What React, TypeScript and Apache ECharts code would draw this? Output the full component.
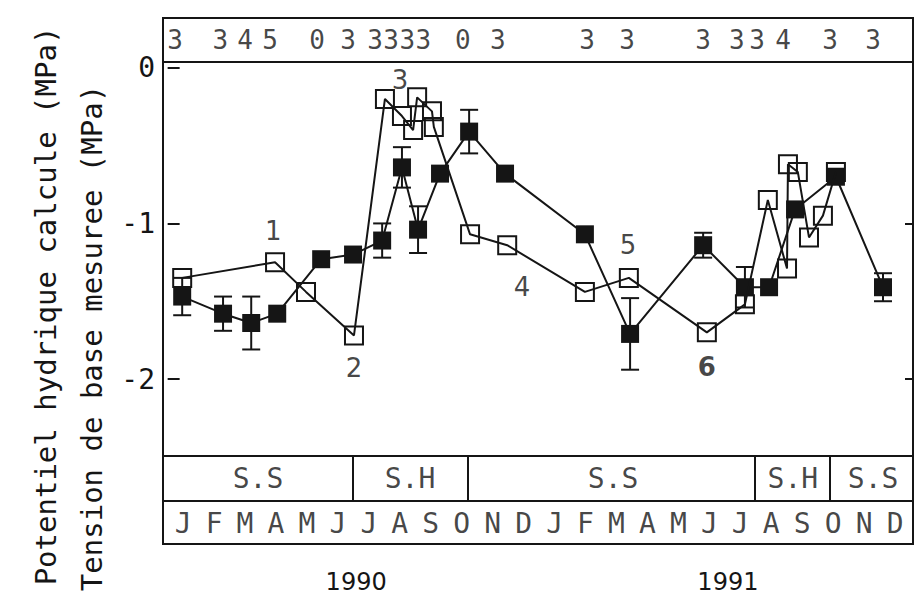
import React, { useEffect, useRef } from "react";
import * as echarts from "echarts";

// Month letters along the bottom band (Jan 1990 – Dec 1991)
const monthLetters = ["J", "F", "M", "A", "M", "J", "J", "A", "S", "O", "N", "D",
  "J", "F", "M", "A", "M", "J", "J", "A", "S", "O", "N", "D"];

// Measured base tension (filled squares): time in months from Jan 1990, MPa, error half-width
const measuredMonths = [0.47, 1.79, 2.70, 3.54, 4.96, 5.99, 6.93, 7.57, 8.09, 8.80,
  9.74, 10.90, 13.48, 14.94, 17.30, 18.65, 19.43, 20.27, 21.59, 23.11];
const measuredValues = [-1.47, -1.58, -1.64, -1.58, -1.23, -1.20, -1.11, -0.64, -1.04, -0.68,
  -0.41, -0.68, -1.07, -1.71, -1.14, -1.41, -1.41, -0.91, -0.70, -1.41];
const measuredErrors = [0.12, 0.11, 0.17, 0, 0, 0, 0.11, 0.13, 0.15, 0,
  0.14, 0, 0, 0.23, 0.08, 0.13, 0, 0, 0, 0.09];

// Computed water potential (open squares)
const computedMonths = [0.47, 3.47, 4.47, 6.02, 7.02, 7.57, 7.93, 8.06, 8.54, 8.60,
  9.77, 10.97, 13.48, 14.90, 17.42, 18.65, 19.39, 20.01, 20.04, 20.36, 20.72, 21.17, 21.59];
const computedValues = [-1.35, -1.25, -1.44, -1.72, -0.20, -0.31, -0.40, -0.19, -0.28, -0.38,
  -1.07, -1.14, -1.44, -1.35, -1.70, -1.52, -0.85, -1.29, -0.62, -0.67, -1.09, -0.95, -0.67];

// Number of samples per sampling date (top band)
const countMonths = [0.24, 1.70, 2.50, 3.31, 4.83, 5.83, 6.70, 7.22, 7.74, 8.26,
  9.54, 10.67, 13.55, 14.84, 17.30, 18.39, 19.04, 19.88, 21.40, 22.79];
const countLabels = ["3", "3", "4", "5", "0", "3", "3", "3", "3", "3",
  "0", "3", "3", "3", "3", "3", "3", "4", "3", "3"];

// Seasons: dry (S.S) / wet (S.H)
const seasonBreaks = [5.99, 9.71, 18.98, 21.40];
const seasonCenters = [2.92, 7.83, 14.39, 20.20, 22.79];
const seasonNames = ["S.S", "S.H", "S.S", "S.H", "S.S"];

// Numbered reference points on the curves
const markerMonths = [3.41, 6.02, 7.51, 11.45, 14.87, 17.42];
const markerValues = [-1.05, -1.93, -0.08, -1.41, -1.14, -1.92];
const markerNames = ["1", "2", "3", "4", "5", "6"];
const markerBold = [false, false, false, false, false, true];

const yearMonths = [6.09, 18.10];
const yearLabels = ["1990", "1991"];

const yTicks = [0, -1, -2];

// Vertical layout of the bands, in MPa units of the value axis
const Y_MIN = -3.06;
const Y_MAX = 0.32;
const COUNT_ROW = 0.18;
const COUNT_LINE = 0.04;
const SEASON_TOP = -2.49;
const MONTH_TOP = -2.78;
const SEASON_ROW = -2.64;
const MONTH_ROW = -2.93;

const INK = "#151515";
const MONO = "'DejaVu Sans Mono', monospace";
const SANS = "'DejaVu Sans', sans-serif";

function textRow(name: string, data: any[], font: any) {
  return {
    name,
    type: "scatter",
    symbol: "rect",
    symbolSize: 1,
    itemStyle: { color: "rgba(0,0,0,0)" },
    silent: true,
    z: 5,
    data,
    label: {
      show: true,
      position: "inside",
      formatter: (p: any) => (Array.isArray(p.data) ? p.data[2] : p.data.value[2]),
      color: INK,
      ...font,
    },
  };
}

export default function App() {
  const ref = useRef<HTMLDivElement>(null);

  useEffect(() => {
    if (!ref.current) return;
    const chart = echarts.init(ref.current, undefined, { renderer: "svg" });

    const bandLines: any[] = [
      { yAxis: COUNT_LINE },
      { yAxis: SEASON_TOP },
      { yAxis: MONTH_TOP },
      ...seasonBreaks.map((x) => [{ coord: [x, SEASON_TOP] }, { coord: [x, MONTH_TOP] }]),
    ];

    const option: any = {
      animation: false,
      backgroundColor: "#fff",
      grid: {
        left: 163,
        right: 3,
        top: 18,
        bottom: 57,
        show: true,
        borderColor: INK,
        borderWidth: 2,
        backgroundColor: "rgba(0,0,0,0)",
      },
      xAxis: {
        type: "value",
        min: -0.15,
        max: 24.08,
        axisLine: { show: false },
        axisTick: { show: false },
        splitLine: { show: false },
        axisLabel: {
          customValues: yearMonths,
          formatter: (v: number) => {
            const i = yearMonths.findIndex((m) => Math.abs(m - v) < 1e-6);
            return i >= 0 ? yearLabels[i] : "";
          },
          margin: 26,
          color: INK,
          fontFamily: SANS,
          fontSize: 24,
        },
      },
      yAxis: [
        {
          type: "value",
          min: Y_MIN,
          max: Y_MAX,
          axisLine: { show: false },
          splitLine: { show: false },
          axisTick: {
            show: true,
            inside: true,
            length: 12,
            customValues: yTicks,
            lineStyle: { color: INK, width: 2 },
          },
          axisLabel: {
            customValues: yTicks,
            formatter: (v: number) => String(v),
            margin: 8,
            color: INK,
            fontFamily: MONO,
            fontSize: 28,
          },
        },
        {
          type: "value",
          position: "right",
          min: Y_MIN,
          max: Y_MAX,
          axisLine: { show: false },
          splitLine: { show: false },
          axisTick: {
            show: true,
            inside: true,
            length: 8,
            customValues: [-1, -2],
            lineStyle: { color: INK, width: 2 },
          },
          axisLabel: { show: false },
        },
      ],
      graphic: [
        {
          type: "text",
          x: 46,
          y: 306,
          rotation: Math.PI / 2,
          style: {
            text: "Potentiel hydrique calcule (MPa)",
            font: `29px ${MONO}`,
            fill: INK,
            textAlign: "center",
            textVerticalAlign: "middle",
          },
        },
        {
          type: "text",
          x: 92,
          y: 338,
          rotation: Math.PI / 2,
          style: {
            text: "Tension de base mesuree (MPa)",
            font: `29px ${MONO}`,
            fill: INK,
            textAlign: "center",
            textVerticalAlign: "middle",
          },
        },
      ],
      series: [
        {
          ...textRow(
            "months",
            monthLetters.map((m, i) => [i + 0.5, MONTH_ROW, m]),
            { fontFamily: MONO, fontSize: 28 }
          ),
          markLine: {
            silent: true,
            symbol: ["none", "none"],
            label: { show: false },
            lineStyle: { color: INK, width: 2, type: "solid" },
            data: bandLines,
          },
        },
        textRow(
          "seasons",
          seasonCenters.map((m, i) => [m, SEASON_ROW, seasonNames[i]]),
          { fontFamily: MONO, fontSize: 28 }
        ),
        textRow(
          "counts",
          countMonths.map((m, i) => [m, COUNT_ROW, countLabels[i]]),
          { fontFamily: MONO, fontSize: 26 }
        ),
        textRow(
          "markers",
          markerMonths.map((m, i) => ({
            value: [m, markerValues[i], markerNames[i]],
            label: { fontWeight: markerBold[i] ? "bold" : "normal" },
          })),
          { fontFamily: SANS, fontSize: 26 }
        ),
        {
          name: "errors",
          type: "custom",
          z: 3,
          data: measuredMonths.map((m, i) => [m, measuredValues[i], measuredErrors[i]]),
          renderItem: (params: any, api: any) => {
            const x = api.value(0);
            const y = api.value(1);
            const e = api.value(2);
            if (!e) return null;
            const top = api.coord([x, y + e]);
            const bot = api.coord([x, y - e]);
            const hw = 9;
            const style = { stroke: INK, lineWidth: 2 };
            return {
              type: "group",
              children: [
                { type: "line", shape: { x1: top[0], y1: top[1], x2: bot[0], y2: bot[1] }, style },
                { type: "line", shape: { x1: top[0] - hw, y1: top[1], x2: top[0] + hw, y2: top[1] }, style },
                { type: "line", shape: { x1: bot[0] - hw, y1: bot[1], x2: bot[0] + hw, y2: bot[1] }, style },
              ],
            };
          },
        },
        {
          name: "Tension de base mesuree",
          type: "line",
          z: 4,
          symbol: "rect",
          symbolSize: 18,
          showAllSymbol: true,
          lineStyle: { color: INK, width: 2 },
          itemStyle: { color: INK },
          data: measuredMonths.map((m, i) => [m, measuredValues[i]]),
        },
        {
          name: "Potentiel hydrique calcule",
          type: "line",
          z: 6,
          symbol: "rect",
          symbolSize: 18,
          showAllSymbol: true,
          lineStyle: { color: INK, width: 2 },
          itemStyle: { color: "rgba(0,0,0,0)", borderColor: INK, borderWidth: 2 },
          data: computedMonths.map((m, i) => [m, computedValues[i]]),
        },
      ],
    };

    chart.setOption(option);
    return () => chart.dispose();
  }, []);

  return (
    <div
      ref={ref}
      style={{ position: "absolute", left: 0, top: 0, width: 916, height: 601, background: "#fff" }}
    />
  );
}
